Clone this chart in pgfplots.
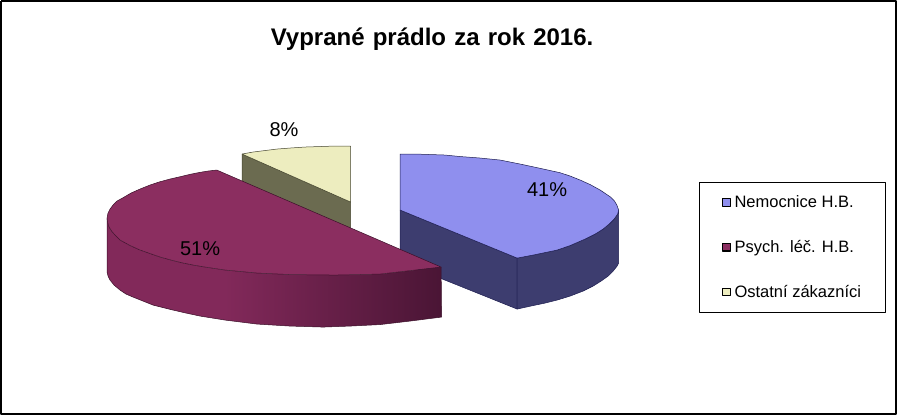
\documentclass[border=0pt]{standalone}
\usepackage{pgfplots}
\pgfplotsset{compat=1.18}
\usepackage{fontspec}
\setmainfont{Liberation Sans}
\newfontfamily\titlefont[WordSpace=1.22]{Liberation Sans}
\definecolor{bluetop}{HTML}{8F8FEE}
\definecolor{blueside}{HTML}{3D3D6F}
\definecolor{martop}{HTML}{8B2E60}
\definecolor{marside}{HTML}{82295A}
\definecolor{mardark}{HTML}{4A1535}
\definecolor{yeltop}{HTML}{EDEDBF}
\definecolor{yelside}{HTML}{6B6B50}
\definecolor{bluedge}{HTML}{1E1E50}
\definecolor{maredge}{HTML}{3A0F28}
\definecolor{yeledge}{HTML}{45452F}
\pgfplotstableread{
x y
400 210
400 154
415 154
430 154.5
445 155
460 156.5
480 158
500 160
520 164
540 168.3
560 172.7
570 176
580 180
590 184.5
600 190
610 196.7
614 200.5
616.7 205
618.5 210
617.5 214
614 219
609 224
603 229
595 234
585 239
570 245.5
557 250
545 252.5
533 255
517 258
400 210
}\blueTop
\pgfplotstableread{
x y
400 210
517 258
517 309
400 262
400 210
}\blueInner
\pgfplotstableread{
x y
517 258
533 255
545 252.5
557 250
570 245.5
585 239
595 234
603 229
609 224
614 219
617.5 214
618.5 210
618.5 263
617 266
613 271
608 276
601 281
593 286
583 291
570 296
557 300
545 303
533 305.5
517 309
517 258
}\blueOuter
\pgfplotstableread{
x y
216.7 170
208 171
200 172.3
190 174.3
180 176.7
170 179
160 181.7
150 185
140 189
131 193
123 197.7
117 201
113 205
110 209
108 213
107 218
107.5 222
109 227
112 231.7
116 236
120 240
130 245.5
140 250
150 253.5
160 257
172 260.3
183 263
193 265
203 266.7
225 270
257 273
290 274.5
335 275
380 274
441 267
216.7 170
}\marTop
\pgfplotstableread{
x y
107 218
107.5 222
109 227
112 231.7
116 236
120 240
130 245.5
140 250
150 253.5
160 257
172 260.3
183 263
193 265
203 266.7
225 270
225 320
200 316
186 313
173 310
163 307.5
153 305
143 301
133 297
126 294
120 290
114 285
110 280
108 276
107 272
107 218
}\marSideA
\pgfplotstableread{
x y
225 270
257 273
290 274.5
335 275
380 274
441 267
441.5 317
410 321
380 324.5
350 326
323 327
290 326
257 324
225 320
225 270
}\marSideB
\pgfplotstableread{
x y
350.5 146
335 146
320 146.5
305 147
290 148
277 149
265 150.5
253 152
242 154
350.5 202
350.5 146
}\yelTop
\pgfplotstableread{
x y
242 154
350.5 202
350.5 262
242 214
242 154
}\yelSide
\pgfplotstableread{
x y
1 1
896 1
896 414
1 414
1 1
}\frameT
\begin{document}
\begin{tikzpicture}[line join=round]
\begin{axis}[
  scale only axis, width=897pt, height=415pt,
  xmin=0, xmax=897, ymin=0, ymax=415, y dir=reverse,
  axis lines=none, clip=true,
  legend cell align=left,
  legend style={at={(axis cs:699,182)}, anchor=north west, draw=black, line width=0.8pt,
    font=\fontsize{16.5}{17}\selectfont, inner xsep=22pt, inner ysep=11.5pt, row sep=27pt},
  legend image code/.code={\draw[line width=1.1pt, #1] (0pt,-3.8pt) rectangle (8.5pt,3.8pt); \path (10pt,0pt);},
]
\addplot[draw=black, line width=1.6pt, forget plot] table {\frameT};
\addplot[fill=yelside, draw=yeledge, line width=0.5pt, forget plot] table {\yelSide};
\addplot[fill=yeltop, draw=yeledge, line width=0.5pt, forget plot] table {\yelTop};
\addplot[fill=blueside, draw=bluedge, line width=0.5pt, forget plot] table {\blueInner};
\addplot[fill=blueside, draw=bluedge, line width=0.5pt, forget plot] table {\blueOuter};
\addplot[fill=bluetop, draw=bluedge, line width=0.5pt, forget plot] table {\blueTop};
\addplot[draw=none, fill=marside, forget plot] table {\marSideA};
\addplot[draw=none, left color=marside, right color=mardark, forget plot] table {\marSideB};
\addplot[draw=maredge, line width=0.5pt, forget plot] coordinates {(107,218) (107,272) (108,276) (110,280) (114,285) (120,290) (126,294) (133,297) (143,301) (153,305) (163,307.5) (173,310) (186,313) (200,316) (225,320) (257,324) (290,326) (323,327) (350,326) (380,324.5) (410,321) (441.5,317) (441,267)};
\addplot[fill=martop, draw=maredge, line width=0.5pt, forget plot] table {\marTop};
\addplot[fill=bluetop, draw=black] coordinates {(0,-50)(1,-50)};
\addlegendentry{Nemocnice H.B.}
\addplot[fill=martop, draw=black] coordinates {(0,-50)(1,-50)};
\addlegendentry{Psych. léč. H.B.}
\addplot[fill=yeltop, draw=black] coordinates {(0,-50)(1,-50)};
\addlegendentry{Ostatní zákazníci\hspace{2pt}}
\node[font=\titlefont\fontsize{24}{26}\selectfont\bfseries] at (axis cs:432,39) {Vyprané prádlo za rok 2016.};
\node[font=\fontsize{20}{22}\selectfont] at (axis cs:284,130) {8\%};
\node[font=\fontsize{20}{22}\selectfont] at (axis cs:200,249) {51\%};
\node[font=\fontsize{20}{22}\selectfont] at (axis cs:547,190) {41\%};
\end{axis}
\end{tikzpicture}
\end{document}
